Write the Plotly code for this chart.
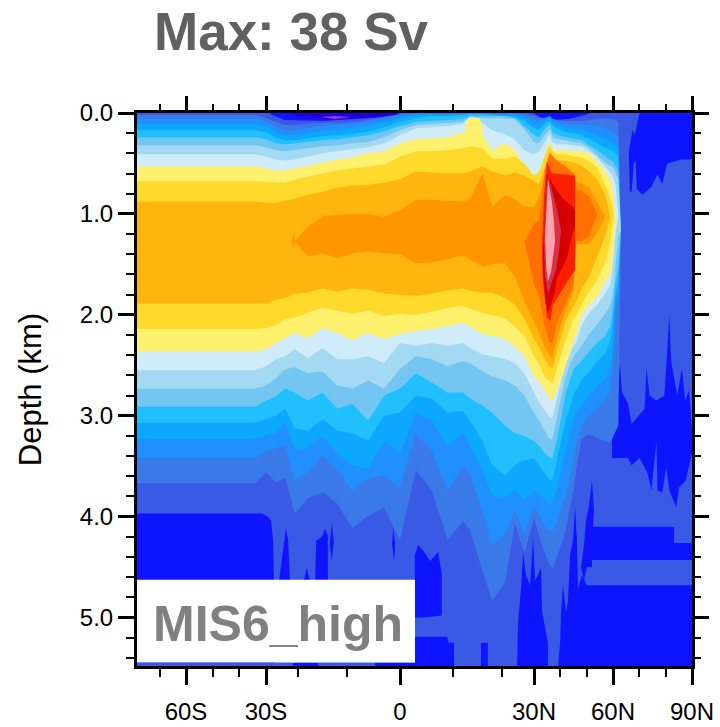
import numpy as np
import plotly.graph_objects as go

# Isolines of the overturning stream function: depth (km) at each latitude.
LAT = [-78.75,-34,-30,-27,-24,-21,-18,-15,-12,-9,-6,-3,0,3,6,9,12,13.5,16,18,21,24,27,30,32,34,36,37,39,42,45,46,48,51,54,57,59,60,61,62,63,66,90]

TOP_2 = [.02,.02,.05,.09,.12,.12,.11,.10,.10,.09,.07,.04,.01,0,0,0,0,0,0,0,0,0,.01,.03,.05,.05,.03,.06,.07,.08,.08,.08,.08,.07,.06,.06,.06,.06,.07,.09,1.37,1.37,1.37]
BOT_2 = [3.67,3.67,3.56,3.66,3.62,3.97,3.82,3.76,3.87,4.11,3.99,3.91,4.23,3.54,3.74,4.23,4.04,4.14,4.53,4.83,4.65,4.07,4.36,4.02,4.20,4.36,4.48,4.51,4.38,4.14,3.74,3.54,3.23,3.18,3.22,3.25,3.27,3.21,3.15,3.10,1.37,1.37,1.37]
TOP_3 = [.06,.06,.08,.14,.17,.17,.15,.13,.12,.11,.09,.06,.03,.01,.01,.01,.01,.01,.01,.01,.01,.01,.02,.07,.08,.05,.03,.06,.08,.11,.11,.11,.12,.12,.13,.15,.17,.19,.21,.24,1.17,1.17,1.17]
BOT_3 = [3.42,3.42,3.35,3.32,3.30,3.64,3.56,3.40,3.54,3.74,3.62,3.59,3.71,3.17,3.35,3.74,3.49,3.59,3.94,4.28,4.18,3.94,4.18,3.89,3.99,4.09,4.14,4.14,4.04,3.79,3.44,3.30,3.10,3.00,2.93,2.85,2.75,2.46,1.96,1.87,1.17,1.17,1.17]
TOP_4 = [.11,.11,.13,.19,.22,.22,.20,.18,.17,.15,.13,.09,.05,.02,.02,.02,.02,.01,.01,.02,.02,.02,.04,.11,.12,.08,.05,.09,.11,.15,.16,.16,.17,.19,.22,.26,.28,.30,.32,.35,1.17,1.17,1.17]
BOT_4 = [3.23,3.23,3.20,3.17,3.08,3.33,3.32,3.20,3.37,3.49,3.52,3.25,3.38,2.97,3.05,3.30,3.17,3.30,3.54,3.79,3.81,3.74,3.84,3.74,3.77,3.82,3.87,3.87,3.69,3.35,3.05,2.98,2.90,2.80,2.70,2.64,2.51,2.31,1.87,1.77,1.17,1.17,1.17]
TOP_5 = [.17,.17,.19,.24,.27,.27,.25,.23,.22,.21,.18,.14,.09,.05,.03,.03,.02,.01,.01,.02,.03,.04,.08,.15,.16,.11,.08,.13,.15,.19,.20,.20,.22,.26,.30,.35,.37,.38,.40,.43,1.17,1.17,1.17]
BOT_5 = [3.07,3.07,3.03,3.00,2.93,3.13,3.15,3.03,3.15,3.17,3.25,3.00,2.97,2.80,2.83,2.97,2.95,3.05,3.25,3.49,3.59,3.49,3.44,3.42,3.49,3.56,3.64,3.64,3.40,3.05,2.80,2.75,2.65,2.56,2.46,2.38,2.26,2.06,1.77,1.67,1.17,1.17,1.17]
TOP_6 = [.24,.24,.26,.30,.31,.30,.28,.27,.26,.24,.22,.18,.13,.09,.08,.07,.06,.04,.03,.03,.03,.05,.13,.22,.24,.16,.11,.19,.22,.24,.26,.26,.27,.32,.37,.43,.46,.48,.53,.58,1.17,1.17,1.17]
BOT_6 = [2.91,2.91,2.85,2.81,2.73,2.77,2.85,2.77,2.93,2.88,3.05,2.80,2.73,2.58,2.67,2.77,2.77,2.83,2.90,2.97,3.10,3.17,3.20,3.25,3.30,3.37,3.42,3.42,3.20,2.78,2.54,2.51,2.46,2.36,2.28,2.21,2.11,1.91,1.67,1.52,1.17,1.17,1.17]
TOP_7 = [.32,.32,.34,.37,.38,.37,.35,.33,.32,.30,.29,.24,.17,.12,.11,.10,.09,.03,.05,.05,.06,.06,.16,.29,.30,.22,.16,.24,.26,.27,.29,.29,.30,.35,.42,.49,.52,.54,.60,.66,1.17,1.17,1.17]
BOT_7 = [2.73,2.73,2.70,2.63,2.54,2.52,2.58,2.56,2.70,2.73,2.65,2.73,2.54,2.41,2.44,2.51,2.46,2.48,2.56,2.61,2.65,2.70,2.80,2.97,3.05,3.15,3.23,3.23,3.00,2.61,2.41,2.38,2.31,2.19,2.09,1.99,1.91,1.77,1.47,1.22,1.17,1.17,1.17]
TOP_8 = [.41,.41,.43,.46,.47,.46,.43,.40,.38,.36,.34,.30,.22,.15,.14,.13,.11,.04,.10,.17,.21,.26,.37,.41,.38,.29,.21,.29,.31,.31,.32,.32,.33,.38,.44,.53,.59,.64,.71,1.03,1.03,1.03,1.03]
BOT_8 = [2.55,2.55,2.51,2.44,2.41,2.34,2.43,2.33,2.44,2.44,2.41,2.48,2.28,2.31,2.28,2.31,2.28,2.33,2.39,2.41,2.44,2.48,2.58,2.77,2.87,2.95,3.02,3.02,2.80,2.48,2.31,2.28,2.11,1.98,1.90,1.79,1.70,1.49,1.17,1.03,1.03,1.03,1.03]
TOP_9 = [.53,.53,.55,.57,.57,.55,.52,.49,.46,.44,.40,.38,.30,.26,.25,.24,.19,.19,.22,.37,.30,.37,.53,.66,.60,.43,.28,.36,.37,.37,.38,.38,.38,.40,.48,.58,.66,.78,1.08,1.08,1.08,1.08,1.08]
BOT_9 = [2.36,2.36,2.34,2.28,2.23,2.18,2.23,2.13,2.18,2.25,2.18,2.24,2.19,2.16,2.14,2.11,2.08,2.12,2.19,2.21,2.24,2.31,2.41,2.61,2.66,2.75,2.83,2.86,2.73,2.51,2.26,2.21,2.01,1.90,1.82,1.67,1.59,1.37,1.08,1.08,1.08,1.08,1.08]
TONGUE_LAT = [12.4,12.8,13.8,15.4,15.8,16.2,13.4]
TONGUE_DEP = [.17,.07,.05,.05,.11,.24,.24]
TOP_10 = [.68,.68,.68,.69,.69,.66,.63,.60,.57,.55,.53,.51,.43,.38,.38,.37,.35,.33,.35,.45,.45,.43,.50,.62,.58,.43,.31,.38,.41,.41,.43,.43,.44,.48,.54,.71,.85,.96,1.13,1.13,1.13,1.13,1.13]
BOT_10 = [2.14,2.14,2.13,2.10,2.04,2.03,1.98,1.93,1.96,1.99,1.96,2.01,1.99,2.00,1.97,1.93,1.91,1.94,1.98,2.01,2.04,2.11,2.21,2.41,2.50,2.61,2.66,2.68,2.51,2.26,2.04,2.01,1.90,1.77,1.65,1.49,1.27,1.03,1.13,1.13,1.13,1.13,1.13]
TOP_11 = [.88,.88,.89,.89,.87,.85,.81,.78,.74,.72,.71,.69,.66,.58,.59,.60,.60,.58,.53,.58,.62,.59,.62,.68,.70,.53,.38,.43,.47,.47,.49,.50,.52,.58,.66,.81,1.03,1.03,1.03,1.03,1.03,1.03,1.03]
BOT_11 = [1.89,1.89,1.89,1.85,1.83,1.79,1.78,1.74,1.77,1.74,1.75,1.79,1.80,1.81,1.79,1.76,1.74,1.76,1.78,1.78,1.83,1.90,2.04,2.24,2.32,2.44,2.51,2.53,2.33,2.06,1.91,1.87,1.75,1.62,1.42,1.22,1.03,1.03,1.03,1.03,1.03,1.03,1.03]

LAT_12 = [-21,-18,-15,-12,-9,-6,-3,0,3,6,9,12,13.5,16,18,21,24,27,30,32,34,36,37,39,42,45,46,48,51,54,57]
TOP_12 = [1.27,1.13,1.02,1.01,1.00,1.00,1.03,.96,.86,.86,.87,.88,.85,.60,.93,.81,.86,.93,.93,.83,.63,.53,.56,.55,.55,.58,.68,.69,.74,.88,1.03]
BOT_12 = [1.27,1.42,1.39,1.44,1.39,1.37,1.39,1.40,1.49,1.48,1.45,1.41,1.45,1.52,1.50,1.49,1.62,1.87,2.06,2.19,2.31,2.41,2.43,2.21,1.96,1.75,1.30,1.30,1.30,1.19,1.03]
LAT_13 = [27,30,32,34,36,37,39,42,45,46,48,51,54]
TOP_13 = [1.27,1.10,1.06,.58,.40,.43,.48,.53,.60,.75,.77,.83,1.00]
BOT_13 = [1.27,1.70,1.82,2.11,2.28,2.28,2.06,1.89,1.72,1.27,1.27,1.22,1.00]

LAT_14 = [33,33.8,34.9,36.8,42.2,45.6,45.6,41,37.2,36.1,34.9,33.4]
DEP_14 = [1.37,.83,.48,.60,.61,.62,1.55,1.74,1.90,2.06,2.02,1.67]
LAT_15 = [33.4,34.2,34.9,37.2,41,44.8,45.6,45.6,44.4,42.5,38.7,38,35.3,34.2,33.4]
DEP_15 = [1.37,.88,.60,.71,.85,.93,.98,1.13,1.22,1.44,1.64,1.77,1.99,1.82,1.57]
LAT_16 = [33.8,34.6,35.3,37.2,39.1,40.3,39.5,38.4,36.8,35.3,34.2]
DEP_16 = [1.27,.78,.61,.81,1.00,1.17,1.37,1.55,1.67,1.79,1.62]
LAT_17 = [34.2,34.9,35.3,36.8,37.6,38,37.2,36.5,35.3,34.6]
DEP_17 = [1.22,.83,.66,.88,1.08,1.27,1.45,1.57,1.67,1.52]

# Regions of the lowest contour band (outlines)
DEEP_PATCHES = [
    ([-78.75,-31.5,-29.4,-28.4,-27.8,-27.5,-27.5,-78.75],[3.97,3.97,4.00,4.04,4.23,4.63,5.45,5.45]),
    ([-25.9,-24.7,-23.8,-23.1,-22.5],[4.63,4.33,4.12,4.23,4.63]),
    ([-16.5,-16.3,-15.1,-14.5,-13.9,-13.9],[4.63,4.24,4.20,4.12,4.19,4.63]),
    ([-13.5,-13.1,-12.7,-13.1],[4.28,4.06,4.25,4.43]),
    ([-18.8,-18.2,-17.6],[4.63,4.51,4.63]),
    ([-1.5,-1.3,-.9,-1.1],[4.28,4.12,4.28,4.43]),
    ([-21.6,-15.9,-15.9,-21.6],[5.45,5.45,5.5,5.5]),
    ([2.8,3.4,4.3,5.7,7.2,7.9,7.9,4.7,2.8],[4.38,4.28,4.33,4.44,4.35,4.58,4.98,5.00,5.00]),
    ([-4.7,2.8,2.8,8.9,9.2,10.2,10.2,-4.7],[5.45,5.45,5.19,5.19,5.25,5.25,5.5,5.5]),
    ([15.7,17.1,17.1,15.7],[5.25,5.25,5.5,5.5]),
    ([24.7,25,25.9,26.6,27.5,28.8,29.7,30.4,31.5,32.7,33,35.3,35.3],[5.5,5.05,4.73,4.36,4.58,4.68,4.21,4.63,4.58,4.50,4.93,5.25,5.5]),
    ([39.1,39.9,40.3,41,42.2,42.9,43.7,44.8,45.6,46.3,46.7,48.2,50.1,90,90],[5.5,5.25,4.94,4.68,4.95,4.83,4.38,4.24,3.91,4.23,4.72,4.58,4.68,4.68,5.5]),
    ([47.8,49,49.7,50.9,52,52.8,52.4,83.2,83.2,90,90,52,52,50.1,49],[4.50,4.28,4.04,3.89,3.64,3.94,4.10,4.10,4.26,4.26,4.43,4.43,4.50,4.50,4.63]),
    ([59.6,59.6,60.8,61.9,62.6,63.4,65.6,67.1,72,72.7,73.9,76.5,79.5,80.6,81.4,82.1,84.4,86.2,87.4,88.9,90,90,87.7,85.1,84,81.4,80.2,78.7,76.9,76.5,74.6,73.1,70.1,67.1,65.6],
     [3.42,3.08,3.00,2.78,2.49,2.77,2.87,3.08,2.93,2.53,2.80,2.85,2.80,2.36,2.01,2.46,2.80,2.53,2.85,2.75,3.15,3.37,3.64,3.71,3.91,3.74,3.51,3.76,3.74,3.25,3.74,3.57,3.42,3.49,3.42]),
    ([90,70.1,68.2,67.5,66,66.4,67.1,67.9,68.6,69,71.2,74.6,76.9,78.7,80.6,85.9,90],[0,0,.22,.16,.38,.78,.78,.49,.49,.75,.81,.73,.61,.70,.50,.46,.46]),
    ([-28.75,-28.1,-24.1,-15,-5,-.6,0],[0,.02,.07,.08,.05,.02,0]),
    ([29.7,32.3,36.8,42.9,49.4,51.3],[0,.04,.07,.06,.02,0]),
]
SURFACE_LOW_LAT = [-23.1,-19.6,-13.5,-6.6,-.9,-.6]
SURFACE_LOW_DEP = [0,.04,.06,.05,.02,0]
SURFACE_MIN_LAT = [-15.5,-12.4,-9.4,-12.4]
SURFACE_MIN_DEP = [.04,.03,.04,.06]
SPOT_LAT = [-21.9,-21.3,-20.9,-21.6]
SPOT_DEP = [1.25,1.19,1.28,1.34]

COLORS = {1:"#3a5ae6",2:"#3a7ae8",3:"#2090ff",4:"#0ca8ff",5:"#20c0ff",6:"#73c6f2",7:"#a3d9f3",8:"#d0ebf9",
          9:"#fff06e",10:"#ffd92b",11:"#ffb50e",12:"#ff9600",13:"#ff7000",14:"#ff1e00",15:"#d40000",16:"#d9304a",17:"#ffa3aa"}
DEEP = "#0f14ff"

# Stretched latitude axis
KNOT_LAT = [-78.75,-60,-30,-20,-10,0,10,20,30,60,90]
KNOT_POS = [137,186,266,298,347,400,453,502,534,613,692]
def stretch(lat):
    return np.interp(lat, KNOT_LAT, KNOT_POS)

MAJOR_LAT = [-60,-30,0,30,60,90]
MAJOR_TXT = ["60S","30S","0","30N","60N","90N"]
MINOR_LAT = [-70,-50,-40,-20,-10,10,20,40,50,70,80]
DEPTH_TICKS = [0,1,2,3,4,5]
DEPTH_TXT = ["0.0","1.0","2.0","3.0","4.0","5.0"]
DEPTH_MINOR = [.2,.4,.6,.8,1.2,1.4,1.6,1.8,2.2,2.4,2.6,2.8,3.2,3.4,3.6,3.8,4.2,4.4,4.6,4.8,5.2,5.4]

fig = go.Figure()
def poly(lats, deps, color):
    fig.add_trace(go.Scatter(x=stretch(lats), y=deps, mode="lines", fill="toself", fillcolor=color,
                             line=dict(width=0, color=color), hoverinfo="skip", showlegend=False))
def band(lats, top, bot, color):
    poly(list(lats)+list(lats)[::-1], list(top)+list(bot)[::-1], color)

poly([-78.75,90,90,-78.75],[0,0,5.5,5.5],COLORS[1])
for la, de in DEEP_PATCHES:
    poly(la, de, DEEP)
poly(SURFACE_LOW_LAT, SURFACE_LOW_DEP, "#2400d8")
poly(SURFACE_MIN_LAT, SURFACE_MIN_DEP, "#8a3cdc")
band(LAT,TOP_2,BOT_2,COLORS[2])
band(LAT,TOP_3,BOT_3,COLORS[3])
band(LAT,TOP_4,BOT_4,COLORS[4])
band(LAT,TOP_5,BOT_5,COLORS[5])
band(LAT,TOP_6,BOT_6,COLORS[6])
band(LAT,TOP_7,BOT_7,COLORS[7])
band(LAT,TOP_8,BOT_8,COLORS[8])
band(LAT,TOP_9,BOT_9,COLORS[9])
poly(TONGUE_LAT,TONGUE_DEP,COLORS[9])
band(LAT,TOP_10,BOT_10,COLORS[10])
band(LAT,TOP_11,BOT_11,COLORS[11])
band(LAT_12,TOP_12,BOT_12,COLORS[12])
poly(SPOT_LAT,SPOT_DEP,COLORS[12])
band(LAT_13,TOP_13,BOT_13,COLORS[13])
poly(LAT_14,DEP_14,COLORS[14])
poly(LAT_15,DEP_15,COLORS[15])
poly(LAT_16,DEP_16,COLORS[16])
poly(LAT_17,DEP_17,COLORS[17])

# Empty trace that carries the top and right tick axes
fig.add_trace(go.Scatter(x=[400], y=[1], xaxis="x2", yaxis="y2", mode="markers", opacity=0,
                         hoverinfo="skip", showlegend=False))

FONT = "Liberation Sans"
X_RANGE = [137,692]
Y_RANGE = [5.48,0]
PL, PR, PT, PB = 137, 692, 112.5, 666.5
def xp(px): return (px-PL)/(PR-PL)
def yp(px): return (PB-px)/(PB-PT)
major = dict(ticks="outside", ticklen=16, tickwidth=3, tickcolor="black", showgrid=False, zeroline=False, automargin=False)
def minor_ticks(vals):
    return dict(tickmode="array", tickvals=vals, ticks="outside", ticklen=8, tickwidth=2, tickcolor="black", showgrid=False)
x_minor = list(stretch(MINOR_LAT))
x_major = list(stretch(MAJOR_LAT))

fig.update_layout(
    width=720, height=727, autosize=False,
    margin=dict(l=137, r=28, t=112.5, b=60.5),
    paper_bgcolor="white", plot_bgcolor=DEEP, showlegend=False,
    font=dict(family=FONT, color="black", size=24),
    xaxis=dict(range=X_RANGE, tickmode="array", tickvals=x_major, ticktext=MAJOR_TXT, **major,
               showline=True, linewidth=3, linecolor="black", mirror=True, ticklabelstandoff=6,
               tickfont=dict(family=FONT, size=24, color="black"), minor=minor_ticks(x_minor)),
    yaxis=dict(range=Y_RANGE, tickmode="array", tickvals=DEPTH_TICKS, ticktext=DEPTH_TXT, **major,
               showline=True, linewidth=3, linecolor="black", mirror=True,
               tickfont=dict(family=FONT, size=24, color="black"),
               title=dict(text="Depth (km)", font=dict(family=FONT, size=31, color="black"), standoff=29),
               minor=minor_ticks(DEPTH_MINOR)),
    xaxis2=dict(range=X_RANGE, overlaying="x", side="top", anchor="y", tickmode="array", tickvals=x_major,
                showticklabels=False, **major, showline=False, minor=minor_ticks(x_minor)),
    yaxis2=dict(range=Y_RANGE, overlaying="y", side="right", anchor="x", tickmode="array", tickvals=DEPTH_TICKS,
                showticklabels=False, **major, showline=False, minor=minor_ticks(DEPTH_MINOR)),
    shapes=[dict(type="rect", xref="paper", yref="paper", x0=0, x1=xp(415), y0=yp(663), y1=yp(580),
                 fillcolor="white", line=dict(width=0), layer="above")],
    annotations=[
        dict(text="<b>Max: 38 Sv</b>", xref="paper", yref="paper", x=xp(152), y=yp(31), xanchor="left", yanchor="middle",
             showarrow=False, font=dict(family=FONT, size=53, color="#606060")),
        dict(text="<b>MIS6_high</b>", xref="paper", yref="paper", x=xp(151), y=yp(624), xanchor="left", yanchor="middle",
             showarrow=False, font=dict(family=FONT, size=50, color="#808080")),
    ],
)
fig.write_html("out.html", config=dict(displayModeBar=False), post_script="document.body.style.margin='0';")
